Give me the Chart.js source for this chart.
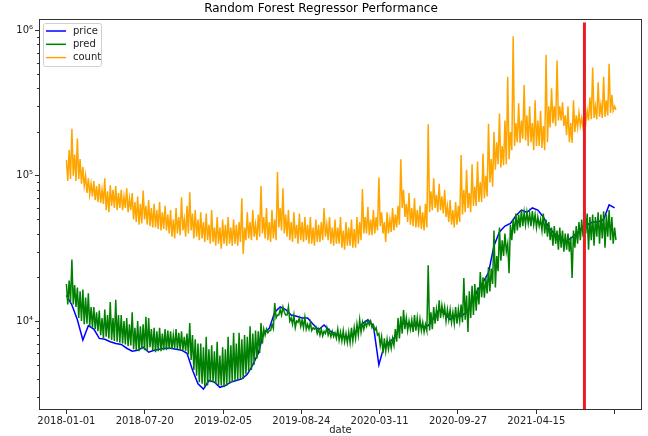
<!DOCTYPE html>
<html>
<head>
<meta charset="utf-8">
<script src="https://cdn.jsdelivr.net/npm/chart.js@4.4.1/dist/chart.umd.min.js"></script>
<style>
  body { margin: 0; background: #fff; }
  canvas { display: block; }
</style>
</head>
<body>
<canvas id="grafico" width="648" height="436"></canvas>
<script>
// dias contados a partir de 2018-01-01
const stepCount = 7;   // count e pred: topo e fundo lidos a cada 7 dias
const stepPrice = 14;  // price: um valor a cada 14 dias

const tickPositions = [0, 200, 400, 600, 800, 1000, 1200, 1400];
const tickLabels = ['2018-01-01', '2018-07-20', '2019-02-05', '2019-08-24', '2020-03-11', '2020-09-27', '2021-04-15', ''];

const yMajor = [10000, 100000, 1000000];
const yMajorLabels = ['10\u2074', '10\u2075', '10\u2076'];
const yMinor = [3000, 4000, 5000, 6000, 7000, 8000, 9000,
  20000, 30000, 40000, 50000, 60000, 70000, 80000, 90000,
  200000, 300000, 400000, 500000, 600000, 700000, 800000, 900000];

// count: picos e vales de cada semana
const countHigh = [
  128000, 150000, 210000, 140000, 180000, 130000, 115000, 100000, 96000, 88000,
  92000, 85000, 88000, 80000, 96000, 78000, 86000, 80000, 85000, 76000,
  80000, 72000, 82000, 70000, 76000, 66000, 72000, 64000, 79000, 62000,
  68000, 60000, 64000, 58000, 66000, 56000, 62000, 54000, 58000, 50000,
  60000, 52000, 71000, 50000, 62000, 77000, 55000, 58000, 50000, 56000,
  48000, 55000, 46000, 58000, 44000, 52000, 44000, 50000, 46000, 52000,
  44000, 50000, 46000, 48000, 70000, 44000, 56000, 48000, 58000, 46000,
  54000, 85000, 52000, 60000, 48000, 58000, 50000, 106000, 60000, 82000,
  54000, 58000, 48000, 56000, 46000, 55000, 48000, 52000, 46000, 52000,
  44000, 50000, 46000, 48000, 60000, 46000, 52000, 44000, 50000, 44000,
  52000, 42000, 48000, 44000, 50000, 43000, 52000, 48000, 81000, 52000,
  61000, 50000, 58000, 52000, 97000, 56000, 48000, 56000, 50000, 60000,
  54000, 62000, 130000, 80000, 64000, 76000, 60000, 70000, 58000, 62000,
  56000, 64000, 226000, 78000, 96000, 74000, 88000, 72000, 80000, 62000,
  68000, 58000, 66000, 62000, 139000, 80000, 110000, 76000, 120000, 84000,
  125000, 90000, 142000, 100000, 228000, 130000, 200000, 170000, 268000, 160000,
  240000, 480000, 200000, 910000, 230000, 315000, 240000, 420000, 260000, 300000,
  230000, 330000, 240000, 280000, 220000, 680000, 300000, 400000, 300000, 620000,
  300000, 320000, 260000, 300000, 230000, 330000, 260000, 270000, 250000, 260000,
  280000, 345000, 555000, 300000, 440000, 310000, 480000, 330000, 590000, 360000, 300000
];
const countLow = [
  92000, 95000, 100000, 92000, 95000, 88000, 85000, 76000, 74000, 72000,
  68000, 66000, 65000, 64000, 58000, 56000, 62000, 60000, 58000, 60000,
  58000, 60000, 56000, 58000, 50000, 48000, 46000, 47000, 50000, 46000,
  45000, 44000, 44000, 43000, 42000, 43000, 42000, 40000, 38000, 37000,
  40000, 39000, 42000, 38000, 40000, 42000, 37000, 38000, 36000, 37000,
  35000, 36000, 34000, 35000, 33000, 34000, 31500, 34000, 33000, 34000,
  33000, 34000, 33000, 35000, 29000, 36000, 37000, 36000, 38000, 36000,
  38000, 40000, 37000, 36000, 35000, 37000, 36000, 44000, 42000, 40000,
  38000, 36000, 35000, 37000, 34000, 36000, 35000, 36000, 34000, 34000,
  33000, 35000, 35000, 36000, 38000, 36000, 34000, 33000, 34000, 34000,
  32000, 31000, 33000, 33000, 32000, 32000, 34000, 36000, 40000, 40000,
  39000, 39000, 40000, 42000, 45000, 40000, 35000, 40000, 41000, 42000,
  44000, 46000, 60000, 52000, 48000, 46000, 45000, 44000, 44000, 43000,
  42000, 44000, 56000, 58000, 60000, 56000, 58000, 55000, 52000, 48000,
  46000, 44000, 46000, 48000, 54000, 56000, 60000, 56000, 62000, 62000,
  66000, 66000, 70000, 72000, 90000, 84000, 110000, 120000, 114000, 118000,
  120000, 130000, 150000, 160000, 170000, 168000, 180000, 175000, 160000, 170000,
  150000, 160000, 160000, 155000, 150000, 170000, 215000, 230000, 220000, 240000,
  240000, 220000, 190000, 170000, 168000, 200000, 215000, 220000, 215000, 230000,
  240000, 245000, 250000, 245000, 255000, 250000, 255000, 260000, 270000, 280000, 285000
];

// pred: picos e vales de cada semana
const predHigh = [
  18000, 19000, 26500, 17700, 17000, 16000, 16500, 14500, 15500, 12500,
  12500, 11500, 11800, 10500, 12000, 11000, 13500, 10500, 14000, 11000,
  11000, 10000, 10500, 9500, 11500, 9000, 10000, 9200, 9500, 10700,
  10500, 8800, 9000, 8500, 9000, 8200, 8800, 8600, 8500, 8000,
  8800, 8300, 8500, 7800, 8200, 9700, 8000, 7500, 7000, 7000,
  6600, 7800, 6400, 6800, 6200, 7200, 5800, 6600, 6400, 7800,
  6800, 8300, 7000, 8300, 7500, 8000, 7800, 9200, 8200, 8600,
  8500, 9700, 8800, 8800, 8600, 9500, 13300, 11000, 12000, 12500,
  11000, 12500, 10500, 11000, 10000, 10500, 10200, 10600, 9500, 9800,
  9000, 9100, 8800, 8800, 8500, 9000, 8600, 8500, 8300, 8800,
  8400, 8600, 8200, 8400, 9000, 9000, 9500, 10200, 9800, 9800,
  10000, 10000, 9400, 9000, 8200, 7800, 7600, 7500, 7400, 7600,
  8800, 10500, 10800, 11900, 10500, 10000, 10200, 11000, 10500, 10300,
  9800, 9500, 24200, 11500, 12500, 12000, 13900, 12800, 12500, 12000,
  12000, 11500, 12500, 12000, 13000, 19800, 15000, 16000, 17500, 18000,
  17000, 21700, 20000, 20000, 23500, 23000, 42000, 28000, 44000, 36000,
  40000, 34000, 46000, 50000, 55000, 54000, 58000, 56000, 56000, 55000,
  57000, 54000, 52000, 50000, 55000, 50000, 48000, 44000, 45000, 42000,
  44000, 42000, 40000, 40000, 38000, 42000, 45000, 48000, 50000, 52000,
  55000, 52000, 54000, 52000, 56000, 54000, 57000, 54000, 58000, 52000, 44000
];
const predLow = [
  13000, 13500, 13000, 12500, 10500, 10000, 9500, 9600, 9200, 9000,
  8800, 8500, 8000, 7600, 7800, 7600, 7400, 7300, 7200, 7100,
  7000, 6900, 6700, 6800, 6400, 6300, 6200, 6400, 6300, 6200,
  6600, 6300, 6100, 6200, 6200, 6300, 6300, 6400, 6400, 6500,
  6400, 6300, 6300, 6200, 5900, 5400, 4600, 4200, 3800, 3700,
  3500, 3600, 3800, 3800, 3700, 3600, 3600, 3500, 3600, 3700,
  3800, 3900, 3900, 4000, 4000, 4300, 4500, 4600, 5000, 5500,
  6000, 7000, 8000, 8300, 8600, 8900, 10500, 11000, 11000, 11500,
  11000, 10000, 9500, 9000, 9800, 9200, 9000, 8800, 8800, 8600,
  8800, 8200, 8000, 7900, 8200, 8000, 7800, 7800, 7600, 7400,
  7300, 7200, 7100, 7100, 7300, 7600, 8000, 8400, 8800, 9200,
  9400, 9000, 8600, 8000, 6800, 6000, 6200, 6400, 6500, 6800,
  7200, 7600, 8200, 8800, 8600, 8800, 8400, 8600, 8500, 8600,
  8400, 8600, 8600, 8800, 9600, 10000, 10500, 11000, 10000, 10200,
  9800, 9600, 9600, 10000, 9800, 10200, 8400, 10500, 11000, 11800,
  13000, 14600, 14500, 15500, 16000, 18000, 17000, 22000, 26000, 28000,
  30000, 21300, 36000, 40000, 42000, 44000, 45000, 46000, 47000, 45000,
  46000, 44000, 45000, 42000, 40000, 38000, 36000, 33000, 34000, 31000,
  32000, 30000, 31000, 30000, 19800, 32000, 34000, 36000, 38000, 40000,
  31000, 36000, 33000, 38000, 34000, 37000, 32000, 38000, 36000, 34000, 36000
];

const price = [
  15000, 12900, 10200, 7400, 9300, 8800, 7600, 7500, 7200, 7000,
  6900, 6500, 6200, 6300, 6600, 6100, 6300, 6400, 6500, 6500,
  6400, 6300, 6000, 4600, 3700, 3400, 3900, 3800, 3500, 3600,
  3800, 3900, 4000, 4300, 5000, 6000, 8300, 8900, 11500, 12500,
  12000, 11000, 10800, 10500, 10500, 9500, 8700, 9400, 8600, 8200,
  7900, 7700, 7900, 8600, 9600, 10200, 9300, 5000, 6800, 7200,
  7800, 9500, 9700, 9200, 9400, 9100, 9300, 10500, 12000, 11200,
  10300, 11000, 10800, 11500, 13500, 16300, 18500, 21500, 33000, 41000,
  45000, 47000, 53000, 58000, 56000, 60000, 58000, 52000, 44000, 40000,
  38000, 35000, 37000, 40000, 44000, 46000, 48000, 48000, 50000, 63000, 60000
];

// linha vermelha vertical (dia 1323 = 2021-08-16)
const redLineX = 1323;
const redLineY = [2443, 1135000];

// topo no inicio da semana, vale no meio dela
function semanal(high, low) {
  const pontos = [];
  high.forEach((v, k) => {
    pontos.push({ x: k * stepCount, y: v });
    pontos.push({ x: k * stepCount + stepCount / 2, y: low[k] });
  });
  return pontos;
}

Chart.defaults.font.family = 'DejaVu Sans';
Chart.defaults.color = '#222';

const quadro = {
  id: 'quadro',
  afterDatasetsDraw(chart) {
    const { ctx, chartArea: a, scales } = chart;
    ctx.save();

    // ticks menores do eixo y
    ctx.strokeStyle = '#333';
    ctx.lineWidth = 1;
    ctx.beginPath();
    yMinor.forEach(v => {
      const py = Math.round(scales.y.getPixelForValue(v)) + 0.5;
      ctx.moveTo(a.left - 2, py);
      ctx.lineTo(a.left, py);
    });
    ctx.stroke();

    // moldura
    ctx.strokeRect(Math.round(a.left) + 0.5, Math.round(a.top) + 0.5,
      Math.round(a.right - a.left) - 1, Math.round(a.bottom - a.top) - 1);

    // legenda dentro do grafico
    const lx = Math.round(a.left) + 4, ly = Math.round(a.top) + 4;
    ctx.fillStyle = 'rgba(255,255,255,0.8)';
    ctx.strokeStyle = '#d0d0d0';
    ctx.beginPath();
    ctx.roundRect(lx + 0.5, ly + 0.5, 58, 43, 2);
    ctx.fill();
    ctx.stroke();

    ctx.font = '10px "DejaVu Sans"';
    ctx.textBaseline = 'middle';
    chart.data.datasets.filter(d => d.label).forEach((d, i) => {
      const ry = ly + 8 + i * 13.3;
      ctx.strokeStyle = d.borderColor;
      ctx.lineWidth = 1.5;
      ctx.beginPath();
      ctx.moveTo(lx + 3, ry);
      ctx.lineTo(lx + 23, ry);
      ctx.stroke();
      ctx.fillStyle = '#222';
      ctx.fillText(d.label, lx + 30, ry);
    });

    ctx.restore();
  }
};

new Chart(document.getElementById('grafico'), {
  type: 'line',
  data: {
    datasets: [
      {
        label: 'price',
        data: price.map((v, i) => ({ x: i * stepPrice, y: v })),
        borderColor: '#0000ff',
        borderWidth: 1.5,
        pointRadius: 0,
        order: 3
      },
      {
        label: 'pred',
        data: semanal(predHigh, predLow),
        borderColor: '#008000',
        borderWidth: 1.5,
        pointRadius: 0,
        order: 2
      },
      {
        label: 'count',
        data: semanal(countHigh, countLow),
        borderColor: '#ffa500',
        borderWidth: 1.5,
        pointRadius: 0,
        order: 1
      },
      {
        data: [{ x: redLineX, y: redLineY[0] }, { x: redLineX, y: redLineY[1] }],
        borderColor: '#ed1c24',
        borderWidth: 3,
        pointRadius: 0,
        order: 0
      }
    ]
  },
  options: {
    responsive: false,
    animation: false,
    layout: { padding: { left: 0, right: 6, top: 0, bottom: 0 } },
    plugins: {
      legend: { display: false },
      tooltip: { enabled: false },
      title: {
        display: true,
        text: 'Random Forest Regressor Performance',
        color: '#000',
        font: { size: 12, weight: 'normal' },
        padding: { top: 2, bottom: 3 }
      }
    },
    scales: {
      x: {
        type: 'linear',
        min: -70,
        max: 1470,
        afterBuildTicks: s => { s.ticks = tickPositions.map(v => ({ value: v })); },
        afterFit: s => { s.height = 26; },
        ticks: {
          autoSkip: false,
          maxRotation: 0,
          padding: 1,
          font: { size: 10 },
          color: '#222',
          callback: (v, i) => tickLabels[i]
        },
        grid: { drawOnChartArea: false, tickLength: 4, tickColor: '#333' },
        border: { display: false },
        title: { display: true, text: 'date', font: { size: 10 }, color: '#222', padding: 0 }
      },
      y: {
        type: 'logarithmic',
        min: 2443,
        max: 1190000,
        afterBuildTicks: s => { s.ticks = yMajor.map(v => ({ value: v })); },
        afterFit: s => { s.width = 39; },
        ticks: {
          autoSkip: false,
          padding: 2,
          font: { size: 10 },
          color: '#222',
          callback: v => yMajorLabels[yMajor.indexOf(v)]
        },
        grid: { drawOnChartArea: false, tickLength: 4, tickColor: '#333' },
        border: { display: false }
      }
    }
  },
  plugins: [quadro]
});
</script>
</body>
</html>
